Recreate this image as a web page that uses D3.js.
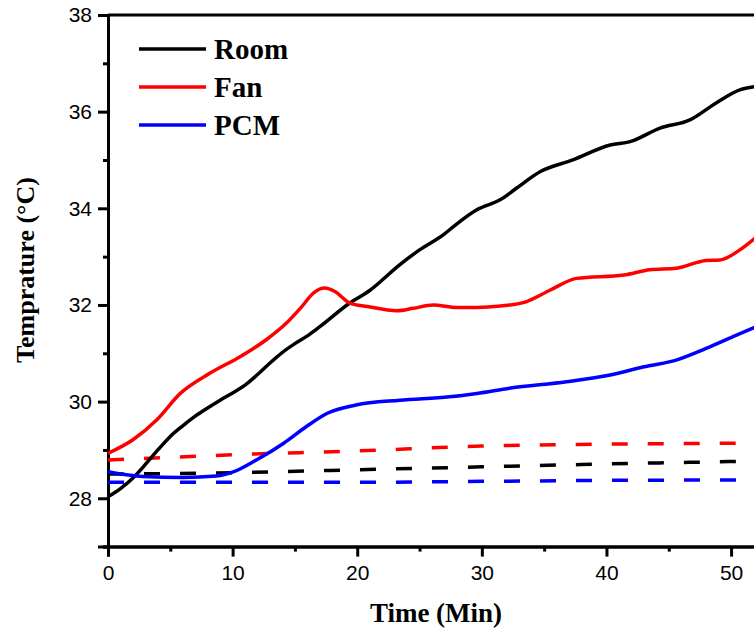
<!DOCTYPE html>
<html>
<head>
<meta charset="utf-8">
<script src="https://cdn.jsdelivr.net/npm/d3@7"></script>
<style>
  body { margin: 0; background: #fff; }
  svg { display: block; }
</style>
</head>
<body>
<svg id="chart" width="754" height="633"></svg>
<script>
// readings [time (min), temperature (°C)]
const room = [[0,28.03],[1,28.2],[2,28.42],[3,28.7],[4,29.0],[5,29.28],[6,29.5],[7,29.7],[8,29.87],[9,30.03],[10,30.18],[11,30.34],[12,30.56],[13,30.8],[14,31.02],[15,31.2],[16,31.36],[17,31.55],[19.4,32.04],[21,32.3],[23.4,32.83],[25,33.14],[26.9,33.45],[28,33.68],[29.6,33.97],[31.5,34.18],[32.8,34.42],[34.7,34.76],[37.3,35.0],[40.3,35.31],[41.9,35.38],[44.3,35.66],[46.7,35.83],[48.8,36.18],[50.7,36.45],[52,36.52]];
const fan = [[0,28.93],[2,29.21],[3.9,29.62],[5.8,30.17],[8.2,30.59],[10.6,30.93],[12.7,31.28],[14.3,31.62],[15.5,31.95],[16.5,32.25],[17.4,32.35],[18.2,32.28],[19.4,32.04],[20.8,31.97],[23.2,31.88],[24.5,31.93],[26.1,32.0],[28,31.95],[29.6,31.95],[31.5,31.98],[33.6,32.07],[35.5,32.31],[37.6,32.55],[41.4,32.62],[43.5,32.73],[45.6,32.76],[48,32.92],[49.1,32.93],[50.7,33.14],[52,33.4]];
const pcm = [[0,28.55],[2.8,28.45],[6,28.43],[8.7,28.46],[10.1,28.55],[11.9,28.79],[14.1,29.14],[15.9,29.48],[17.6,29.76],[19.9,29.93],[23.4,30.03],[27.4,30.1],[29.6,30.17],[32.3,30.28],[36.8,30.41],[40.3,30.55],[43,30.72],[45.6,30.86],[48,31.1],[50.2,31.35],[52,31.55]];
const roomBase = [[0,28.5],[10,28.53],[20,28.59],[30,28.65],[40,28.71],[50,28.76],[52,28.77]];
const fanBase = [[0,28.79],[10,28.9],[20,28.98],[30,29.08],[40,29.12],[52,29.14]];
const pcmBase = [[0,28.33],[20,28.33],[30,28.35],[40,28.37],[52,28.38]];

const legendNames = ["Room", "Fan", "PCM"];
const colors = ["#000000", "#ff0000", "#0000ff"];
const xMajor = [0, 10, 20, 30, 40, 50];
const xMinor = [5, 15, 25, 35, 45];
const yMajor = [28, 30, 32, 34, 36, 38];
const yMinor = [27, 29, 31, 33, 35, 37];

const svg = d3.select("#chart");

const x = d3.scaleLinear().domain([0, 52]).range([108, 756]);
const y = d3.scaleLinear().domain([27, 38]).range([546.6, 15]);

const line = d3
    .line()
    .curve(d3.curveMonotoneX)
    .x(d => x(d[0]))
    .y(d => y(d[1]));

// top frame line
svg.append("line")
    .attr("x1", x(0)).attr("x2", 754)
    .attr("y1", y(38)).attr("y2", y(38))
    .attr("stroke", "#000").attr("stroke-width", 3);

const tickFont = "'Liberation Sans', Arial, sans-serif";

// y axis
const yAxis = svg.append("g").attr("transform", `translate(${x(0)},0)`);
yAxis.call(d3.axisLeft(y).tickValues(yMajor).tickSize(10).tickPadding(6).tickFormat(d3.format("d")));
yAxis.append("g").call(d3.axisLeft(y).tickValues(yMinor).tickSize(5).tickFormat(""));
yAxis.selectAll("path").attr("stroke-width", 3);
yAxis.selectAll("line").attr("stroke-width", 3);
yAxis.selectAll("text").attr("font-family", tickFont).attr("font-size", 21).attr("fill", "#000");

// x axis
const xAxis = svg.append("g").attr("transform", `translate(0,${y(27)})`);
xAxis.call(d3.axisBottom(x).tickValues(xMajor).tickSize(10).tickPadding(8).tickFormat(d3.format("d")));
xAxis.append("g").call(d3.axisBottom(x).tickValues(xMinor).tickSize(5).tickFormat(""));
xAxis.selectAll("path").attr("stroke-width", 3);
xAxis.selectAll("line").attr("stroke-width", 3);
xAxis.selectAll("text").attr("font-family", tickFont).attr("font-size", 21).attr("fill", "#000");

// series
const solid = [room, fan, pcm];
const dashed = [roomBase, fanBase, pcmBase];

svg.append("g")
    .selectAll("path")
    .data(dashed)
    .join("path")
    .attr("d", line)
    .attr("fill", "none")
    .attr("stroke", (d, i) => colors[i])
    .attr("stroke-width", 3.5)
    .attr("stroke-dasharray", "16,20");

svg.append("g")
    .selectAll("path")
    .data(solid)
    .join("path")
    .attr("d", line)
    .attr("fill", "none")
    .attr("stroke", (d, i) => colors[i])
    .attr("stroke-width", 3.5)
    .attr("stroke-linejoin", "round");

// legend
const serif = "'Liberation Serif', 'Times New Roman', serif";
const legend = svg.append("g")
    .selectAll("g")
    .data(legendNames)
    .join("g")
    .attr("transform", (d, i) => `translate(139,${49 + i * 38})`);
legend.append("line")
    .attr("x1", 0).attr("x2", 67)
    .attr("stroke", (d, i) => colors[i])
    .attr("stroke-width", 3.5);
legend.append("text")
    .attr("x", 75).attr("y", 10)
    .attr("font-family", serif).attr("font-weight", "bold").attr("font-size", 29)
    .text(d => d);

// axis titles
svg.append("text")
    .attr("x", 436).attr("y", 622)
    .attr("text-anchor", "middle")
    .attr("font-family", serif).attr("font-weight", "bold").attr("font-size", 27)
    .text("Time (Min)");

svg.append("text")
    .attr("transform", "translate(34,270) rotate(-90)")
    .attr("text-anchor", "middle")
    .attr("font-family", serif).attr("font-weight", "bold").attr("font-size", 26)
    .text("Temprature (°C)");
</script>
</body>
</html>
